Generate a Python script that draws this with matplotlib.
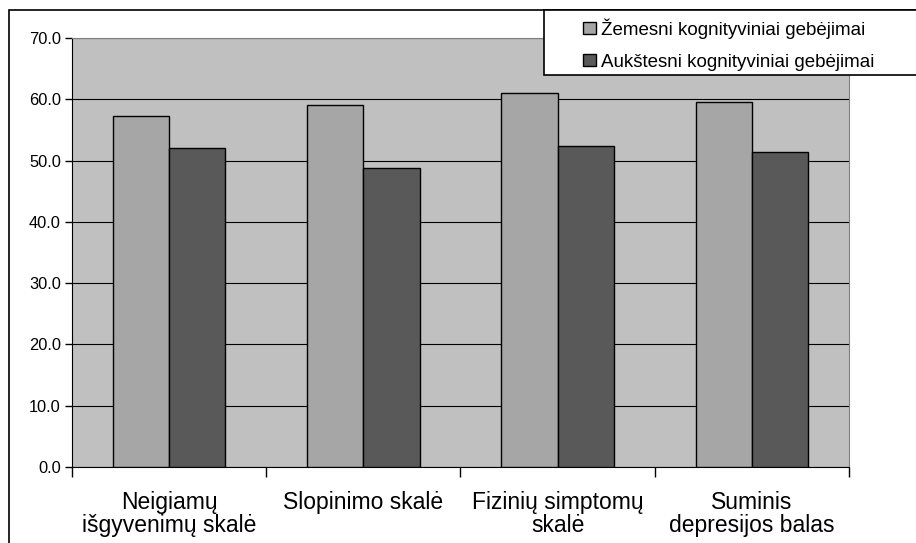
import matplotlib.pyplot as plt
import numpy as np
from matplotlib.patches import Rectangle, Patch

plt.rcParams['font.family'] = ['Liberation Sans', 'DejaVu Sans']

categories = ["Neigiamų\nišgyvenimų skalė", "Slopinimo skalė",
              "Fizinių simptomų\nskalė", "Suminis\ndepresijos balas"]
lower = [57.3, 59.1, 61.1, 59.5]
higher = [52.0, 48.8, 52.3, 51.4]
series_names = ["Žemesni kognityviniai gebėjimai", "Aukštesni kognityviniai gebėjimai"]
yticks = [0, 10, 20, 30, 40, 50, 60, 70]

W, H = 916, 543
fig = plt.figure(figsize=(W / 100, H / 100), dpi=100)
ax = fig.add_axes([72 / W, 1 - 467 / H, (849 - 72) / W, (467 - 38) / H])
ax.set_facecolor('#C0C0C0')

x = np.arange(len(categories))
bw = 0.29
ax.bar(x - bw / 2, lower, bw, color='#A6A6A6', edgecolor='black', linewidth=1, zorder=3)
ax.bar(x + bw / 2, higher, bw, color='#595959', edgecolor='black', linewidth=1, zorder=3)

ax.set_xlim(-0.5, len(categories) - 0.5)
ax.set_ylim(0, 70)
ax.set_yticks(yticks)
ax.set_yticklabels([f"{v:.1f}" for v in yticks], fontsize=11.8)
ax.yaxis.grid(True, color='black', linewidth=0.8, zorder=1)
ax.set_axisbelow(True)
ax.tick_params(axis='y', direction='out', length=5, width=1, pad=3)

ax.set_xticks(x)
ax.set_xticklabels(categories, fontsize=16.5, linespacing=1.02)
ax.tick_params(axis='x', which='major', length=0, pad=17)
ax.set_xticks(np.arange(-0.5, len(categories)), minor=True)
ax.tick_params(axis='x', which='minor', direction='out', length=7, width=1)

ax.spines['left'].set_color('black')
ax.spines['bottom'].set_color('black')
ax.spines['top'].set_color('#808080')
ax.spines['right'].set_color('#808080')

# outer chart frame (cut at right and bottom)
fig.patches.append(Rectangle((8.5 / W, -0.1), 1.2, 1 - 10 / H + 0.1, transform=fig.transFigure,
                             fill=False, edgecolor='black', linewidth=1.2, zorder=0))
# legend box
fig.patches.append(Rectangle((544 / W, 1 - 75 / H), 0.6, 65 / H, transform=fig.transFigure,
                             facecolor='white', edgecolor='black', linewidth=1.2, zorder=5))
handles = [Patch(facecolor='#A6A6A6', edgecolor='black'),
           Patch(facecolor='#595959', edgecolor='black')]
leg = fig.legend(handles, series_names, loc='upper left', bbox_to_anchor=(575 / W, 1 - 11 / H),
                 frameon=False, fontsize=13.5, handlelength=0.72, handleheight=0.62,
                 handletextpad=0.25, labelspacing=0.8, borderaxespad=0)
leg.set_zorder(6)

fig.savefig('out.png', dpi=100)
